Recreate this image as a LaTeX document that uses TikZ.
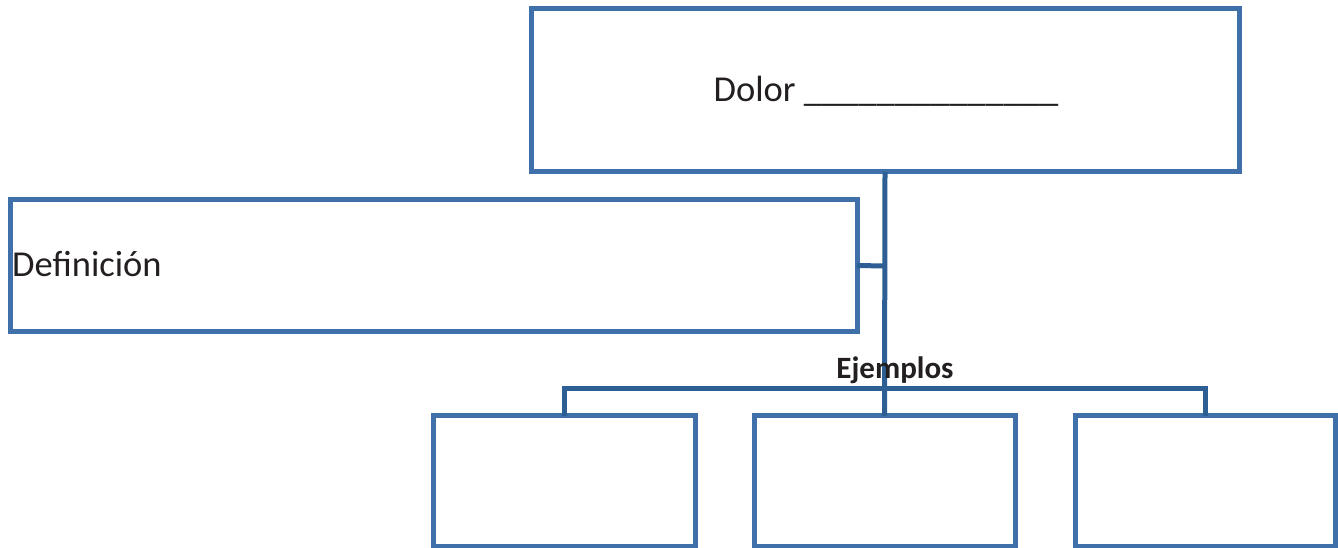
\documentclass[tikz,border=0pt]{standalone}
\usepackage{fontspec}
\setmainfont{Carlito}
\definecolor{boxblue}{RGB}{64,112,170}
\definecolor{linkblue}{RGB}{46,95,148}
\definecolor{inkgray}{RGB}{35,31,32}
\begin{document}
\begin{tikzpicture}[x=1pt,y=-1pt,
  box/.style={draw=boxblue,line width=5pt,rectangle,inner sep=0pt,outer sep=0pt},
  link/.style={draw=linkblue,line width=5pt},
  txt/.style={text=inkgray,inner sep=0pt}]
\useasboundingbox (0,0) rectangle (1338,548);
\node[box,minimum width=708pt,minimum height=163pt] (top) at (885,90.5) {};
\node[txt,anchor=base,font=\fontsize{36.5}{40}\selectfont] (toptxt) at (886,102) {Dolor \_\_\_\_\_\_\_\_\_\_\_\_\_\_};
\node[box,minimum width=847pt,minimum height=131pt] (def) at (433.5,265.5) {};
\node[txt,anchor=base west,font=\fontsize{36.5}{40}\selectfont] (deftxt) at (12,276) {Definición};
\node[box,minimum width=262pt,minimum height=130.5pt] (b1) at (564,481) {};
\node[box,minimum width=261pt,minimum height=130.5pt] (b2) at (884.5,481) {};
\node[box,minimum width=260pt,minimum height=130.5pt] (b3) at (1205,481) {};
\coordinate (junc) at (885,266);
\coordinate (brk) at (885,388);
\draw[link] (top.south) -- (b2.north);
\draw[link] (def.east) -- (junc);
\draw[link] (b1.north) |- (brk) -| (b3.north);
\node[txt,anchor=base,font=\bfseries\fontsize{31}{35}\selectfont] (ej) at (895,378) {Ejemplos};
\end{tikzpicture}
\end{document}
